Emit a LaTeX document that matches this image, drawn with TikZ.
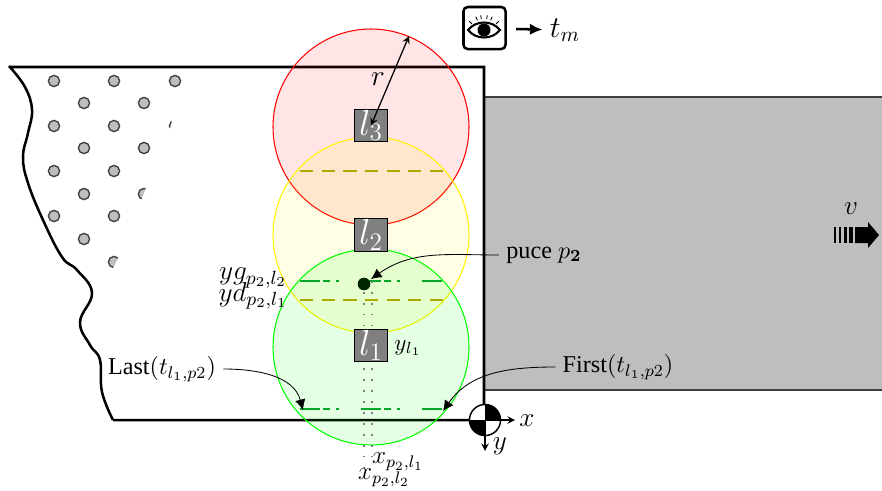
\documentclass[tikz,border=0pt]{standalone}
\usepackage{fix-cm}
\usepackage{amsmath,amssymb}
\usepackage[no-math]{fontspec}
\setmainfont{Liberation Serif}
\usetikzlibrary{arrows.meta}

\definecolor{partgray}{RGB}{190,190,190}
\definecolor{dashgreen}{RGB}{0,170,40}
\definecolor{dasholive}{RGB}{170,170,0}
\newcommand{\notesize}{\fontsize{11.5}{13}\selectfont}
\newcommand{\marksize}{\fontsize{13}{15}\selectfont}
\tikzset{
  led/.style={draw=black,fill=black!50,text=white,line width=0.6pt,minimum size=15.5pt,inner sep=0pt,font=\LARGE},
  note/.style={font=\notesize},
  spot/.style={draw=black!75,fill=partgray,line width=0.65pt},
  lastfirst/.style={line width=1.2pt,color=dashgreen,dash pattern=on 9.5pt off 1.5pt on 3.5pt off 2.5pt on 1.5pt off 10.5pt},
  overlap/.style={line width=1.2pt,color=dasholive,dash pattern=on 6.3pt off 4pt},
  sight/.style={color=black!50,line width=0.5pt,dash pattern=on 0.8pt off 4.4pt},
  fov/.style={line width=0.5pt,fill opacity=0.1}
}

\begin{document}
\begin{tikzpicture}[x=0.476pt,y=-0.476pt]
\useasboundingbox (0,0) rectangle (882,490);

% conveyor and part
\fill[partgray] (484,97) rectangle (882,390);
\draw[black!75,line width=0.6pt] (882,97) -- (484,97);
\draw[black!75,line width=0.8pt] (882,390) -- (484,390);
\draw[black,line width=1.2pt] (9,67) -- (484,67) -- (484,420) -- (113,420)
  plot[smooth,tension=0.7] coordinates {(113,420) (102,392) (100,360) (90,345) (80,322) (92,293) (77,270) (62,257) (43,220) (28,183) (23,157) (28,133) (32,110) (25,87) (9,66)};

% holes
\foreach \x/\y in {54/81,114/81,175/81,84/103,144/103,54/126,114/126,84/148,144/148,54/171,114/171,84/194,54/216,114/216,84/239}
  \draw[spot] (\x,\y) circle (5.6);
\begin{scope}
\clip (130,185) -- (147,185) -- (140.5,202) -- (130,202) -- cycle;
\draw[spot] (144,194) circle (5.6);
\end{scope}
\begin{scope}
\clip (100,250) -- (122,250) -- (112,270) -- (100,270) -- cycle;
\draw[spot] (114,262) circle (5.6);
\end{scope}
\begin{scope}
\clip (165,120) -- (172,120) -- (170,128) -- (165,128) -- cycle;
\draw[spot] (175,126) circle (5.6);
\end{scope}

% fields of the three lines
\draw[fov,draw=red,fill=red] (371,127) circle (98);
\draw[fov,draw=yellow,fill=yellow] (371,235) circle (98);
\draw[fov,draw=green,fill=green] (371,347) circle (98);

\draw[overlap] (300,171) -- (443,171);
\draw[overlap] (300,300) -- (443,300);
\draw[lastfirst] (300,281) -- (443,281);
\draw[lastfirst] (300,409) -- (443,409);

\draw[sight] (364,281) -- (364,468);
\draw[sight] (372,281) -- (372,456);

% lines
\node[led] (L3) at (371,125.5) {$l_3$};
\node[led] (L2) at (371,235) {$l_2$};
\node[led] (L1) at (371,345.5) {$l_1$};

\node[circle,fill=black!85!green,inner sep=0pt,minimum size=6pt] (P2) at (364,284) {};

\node[note] (Puce) at (544,255) {puce $p_{\mathbf{2}}$};
\node[note] (Last) at (162,369) {Last$(t_{l_1,p2})$};
\node[note] (First) at (618,367) {First$(t_{l_1,p2})$};
\coordinate (PuceEnd) at (371,279);
\coordinate (LastEnd) at (303,410);
\coordinate (FirstEnd) at (443,411);
\coordinate (Rim) at (409,36);

\path[->, black, >={Latex[length=5pt,width=5pt]}] (Puce) edge [out=180,in=35] node[]{} (PuceEnd);
\path[->, black, >={Latex[length=5pt,width=5pt]}] (Last) edge [out=0,in=105] node[]{} (LastEnd);
\path[->, black, >={Latex[length=5pt,width=5pt]}] (First) edge [out=180,in=55] node[]{} (FirstEnd);
\path[<->, black, >=stealth, line width=0.6pt] (L3.center) edge [] node[]{} (Rim);

\node at (378,79) {\fontsize{14}{16}\selectfont $r$};
\node at (253,278) {\marksize $yg_{p_2,l_2}$};
\node at (253,296) {\marksize $yd_{p_2,l_1}$};
\node at (408,348) {\fontsize{11}{13}\selectfont $y_{l_1}$};
\node at (398,462) {\large $x_{p_2,l_1}$};
\node at (384,478) {\large $x_{p_2,l_2}$};

% reference mark
\node[circle,draw=black,fill=white,line width=0.7pt,inner sep=0pt,minimum size=14.8pt] (O) at (485,420) {};
\fill[black] (485,420) -- (485,404.5) arc[start angle=270,end angle=360,radius=15.5] -- cycle;
\fill[black] (485,420) -- (485,435.5) arc[start angle=90,end angle=180,radius=15.5] -- cycle;
\node at (527,421) {\marksize $x$};
\node at (500,446) {\marksize $y$};
\coordinate (Xend) at (515,420);
\coordinate (Yend) at (485,451);
\path[->, black, >=stealth, line width=0.6pt] (O.center) edge [] node[]{} (Xend);
\path[->, black, >=stealth, line width=0.6pt] (O.center) edge [] node[]{} (Yend);

% camera
\node[draw=black,rounded corners=2pt,line width=1.2pt,minimum size=20pt,inner sep=0pt] (Cam) at (484.5,28) {};
\draw[line width=1pt,fill=white] (468,30) .. controls (476,20) and (492,20) .. (500,30) .. controls (492,40) and (476,40) .. (468,30) -- cycle;
\fill[black] (484,30) circle (6.5);
\foreach \a in {225,247,261,279,293,315}
  \draw[line width=0.4pt] ([shift={(\a:17)}]484,36) -- ([shift={(\a:21)}]484,36);
\node[] (Tm) at (565,30) {\Large $t_m$};
\coordinate (CamOut) at (516,29);
\path[->, black, >={Latex[length=6pt,width=5.5pt]}, line width=1.2pt] (CamOut) edge [] node[]{} (Tm);

% speed
\node at (851,209) {\marksize $v$};
\foreach \x/\w in {835/0.7,840/1,845.5/1.4,851/2}
  \draw[black,line width=\w pt] (\x,227) -- (\x,243);
\fill[black] (855,227) -- (868,227) -- (868,222) -- (879,235) -- (868,248) -- (868,243) -- (855,243) -- cycle;
\end{tikzpicture}
\end{document}
